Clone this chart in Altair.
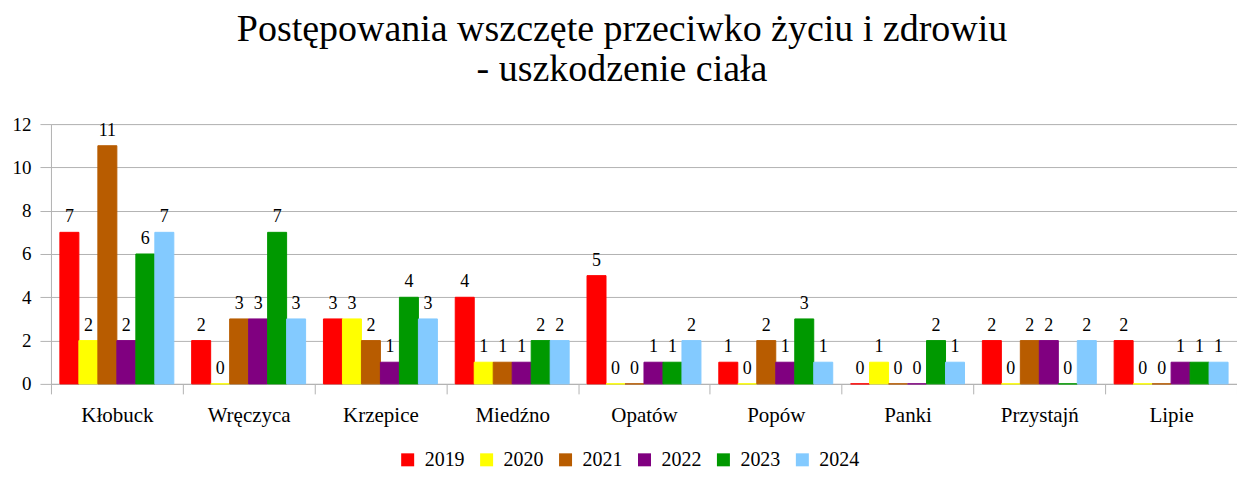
import altair as alt
import pandas as pd

categories = ["Kłobuck", "Wręczyca", "Krzepice", "Miedźno", "Opatów",
              "Popów", "Panki", "Przystajń", "Lipie"]
years = ["2019", "2020", "2021", "2022", "2023", "2024"]
v2019 = [7, 2, 3, 4, 5, 1, 0, 2, 2]
v2020 = [2, 0, 3, 1, 0, 0, 1, 0, 0]
v2021 = [11, 3, 2, 1, 0, 2, 0, 2, 0]
v2022 = [2, 3, 1, 1, 1, 1, 0, 2, 1]
v2023 = [6, 7, 4, 2, 1, 3, 2, 0, 1]
v2024 = [7, 3, 3, 2, 2, 1, 1, 2, 1]
colors = ["#FF0000", "#FFFF00", "#B85C00", "#800080", "#009900", "#83CAFF"]
y_ticks = [0, 2, 4, 6, 8, 10, 12]

series = [v2019, v2020, v2021, v2022, v2023, v2024]
rows = []
for yr, vals in zip(years, series):
    for cat, v in zip(categories, vals):
        rows.append({"gmina": cat, "rok": yr, "value": v})
df = pd.DataFrame(rows)

FONT = "Liberation Serif"
GREY = "#b3b3b3"

x = alt.X("gmina:N", sort=categories,
          scale=alt.Scale(paddingInner=0, paddingOuter=0),
          axis=alt.Axis(title=None, tickBand="extent", tickSize=10, labelPadding=11,
                        labelFontSize=21, labelFont=FONT, labelColor="black",
                        domainColor=GREY, tickColor=GREY, grid=False, labelAngle=0))
xo = alt.XOffset("rok:N", sort=years,
                 scale=alt.Scale(paddingOuter=0.47, paddingInner=0))
y = alt.Y("value:Q", scale=alt.Scale(domain=[0, 12], nice=False),
          axis=alt.Axis(title=None, values=y_ticks, tickSize=11, labelPadding=9,
                        labelFontSize=19, labelFont=FONT, labelColor="black",
                        domainColor=GREY, tickColor=GREY, gridColor=GREY))
color_scale = alt.Scale(domain=years, range=colors)

bars = alt.Chart(df).mark_bar(strokeWidth=1).encode(
    x=x, xOffset=xo, y=y,
    color=alt.Color("rok:N", scale=color_scale,
                    legend=alt.Legend(orient="none", legendX=347, legendY=326,
                                      direction="horizontal", title=None,
                                      symbolType="square", symbolSize=169,
                                      symbolStrokeWidth=0, labelFontSize=20,
                                      labelFont=FONT, labelColor="black",
                                      columnPadding=12, labelOffset=7, padding=0)),
    stroke=alt.Stroke("rok:N", scale=color_scale, legend=None),
)

labels = alt.Chart(df).mark_text(dy=-10, baseline="alphabetic", fontSize=18,
                                 font=FONT, color="black").encode(
    x=x, xOffset=xo, y=y, text=alt.Text("value:Q"))

chart = alt.layer(bars, labels).properties(
    width=1187, height=260,
    title=alt.TitleParams(["Postępowania wszczęte przeciwko życiu i zdrowiu",
                           "- uszkodzenie ciała"],
                          fontSize=38, font=FONT, fontWeight="normal", color="black",
                          anchor="middle", dx=-22, offset=26, lineHeight=40),
    autosize="none",
    padding={"left": 43, "top": 116, "right": 0, "bottom": 87},
).configure_view(strokeWidth=0).configure(background="white")

chart.save("out.html", embed_options={"renderer": "svg", "actions": False})
